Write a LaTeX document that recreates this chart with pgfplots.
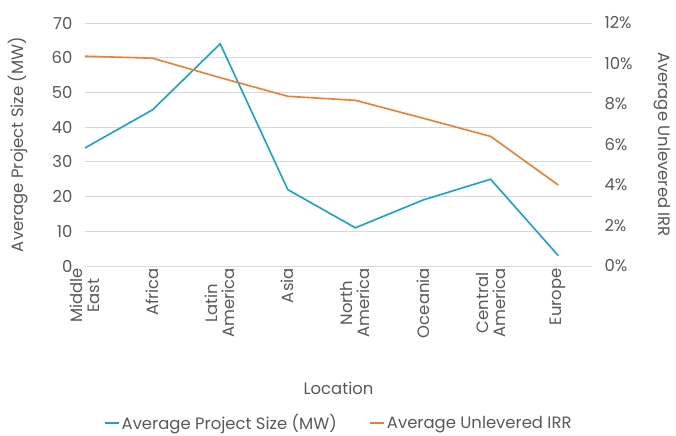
\documentclass[border=0pt]{standalone}
\usepackage{pgfplots}
\pgfplotsset{compat=1.18}
\usepackage{fontspec}
\setmainfont{Poppins}
\definecolor{cblue}{RGB}{22,163,201}
\definecolor{corange}{RGB}{237,125,49}
\definecolor{tgray}{RGB}{89,89,89}
\definecolor{ggray}{RGB}{217,217,217}
\begin{document}
\begin{tikzpicture}[font=\fontsize{16.5}{18}\selectfont]
\pgfplotsset{
  base/.style={
    scale only axis, width=507bp, height=243bp,
    xmin=0, xmax=7.5,
    axis line style={draw=none},
    tick style={draw=none},
    /pgf/number format/assume math mode=true,
    tick label style={text=tgray, font=\fontsize{16.5}{17}\selectfont},
    label style={text=tgray, font=\fontsize{16.5}{18}\selectfont},
  }
}
\begin{axis}[base, name=ax1,
  ymin=0, ymax=70, ytick={0,10,...,70},
  ymajorgrids, grid style={ggray, line width=0.8bp},
  xtick={0,...,7},
  xticklabels={{Middle\\East},Africa,{Latin\\America},Asia,{North\\America},Oceania,{Central\\America},Europe},
  x tick label style={rotate=90, anchor=east, align=center, inner sep=2bp},
  yticklabel style={xshift=-9bp},
  xlabel={Location},
  xlabel style={at={(axis description cs:0.5,-0.502)}, anchor=center},
  ylabel={Average Project Size (MW)},
  ylabel style={at={(axis description cs:-0.132,0.5)}, anchor=center},
  legend style={draw=none, fill=none, at={(axis description cs:0.5,-0.645)}, anchor=center,
    legend columns=2, font=\fontsize{16.5}{18}\selectfont,
    /tikz/every even column/.append style={column sep=30bp}},
  legend image code/.code={\draw[#1, line width=2.2bp] (0bp,0bp) -- (14bp,0bp);},
  legend cell align=left,
]
\addplot[cblue, line width=1.6bp] coordinates {(0,34) (1,45) (2,64) (3,22) (4,11) (5,19) (6,25) (7,3)};
\addlegendentry{\textcolor{tgray}{Average Project Size (MW)}}
\addlegendimage{corange, line width=1.6bp}
\addlegendentry{\textcolor{tgray}{Average Unlevered IRR}}
\end{axis}
\begin{axis}[base,
  axis x line=none, axis y line*=right,
  ymin=0, ymax=12, ytick={0,2,...,12},
  yticklabels={0\%,2\%,4\%,6\%,8\%,10\%,12\%},
  yticklabel style={xshift=9bp},
  ylabel={Average Unlevered IRR},
  ylabel style={at={(axis description cs:1.138,0.5)}, anchor=center, rotate=180},
]
\addplot[corange, line width=1.6bp] coordinates {(0,10.36) (1,10.26) (2,9.3) (3,8.38) (4,8.18) (5,7.3) (6,6.4) (7,4.0)};
\end{axis}
\pgfresetboundingbox
\path[use as bounding box] ([shift={(-85bp,-170bp)}]ax1.south west) rectangle ([shift={(84bp,23bp)}]ax1.north east);
\end{tikzpicture}
\end{document}
